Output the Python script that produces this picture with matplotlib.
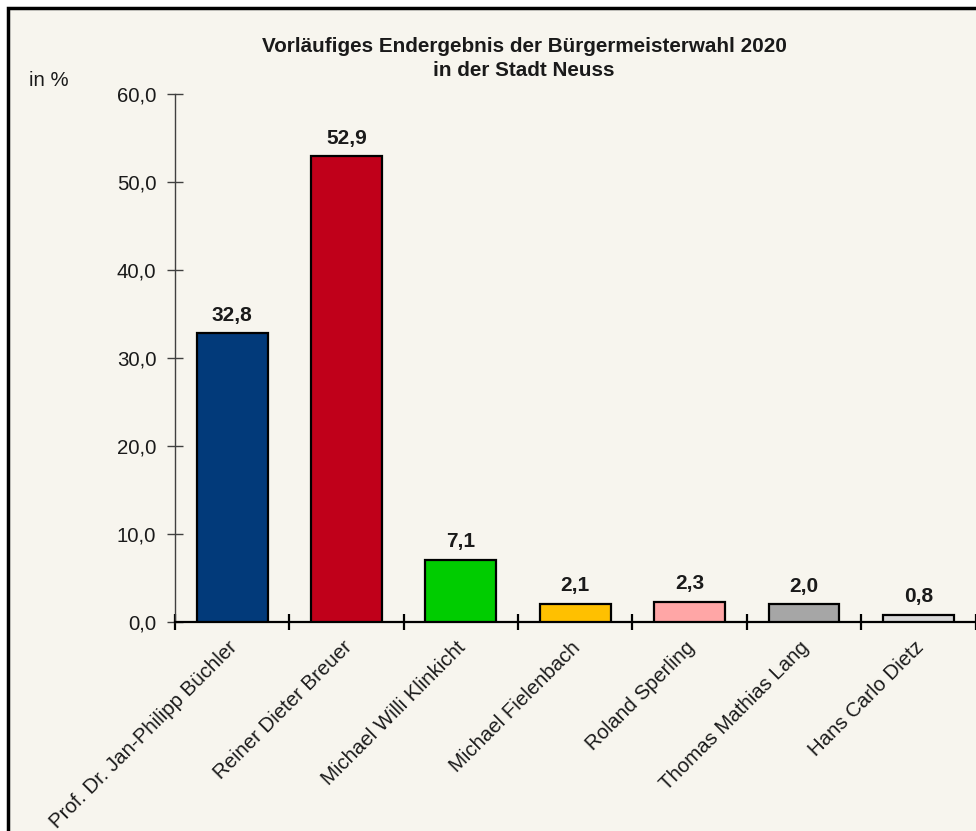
import numpy as np
import matplotlib
matplotlib.use('Agg')
from matplotlib import pyplot as plt
from matplotlib.patches import Rectangle
from matplotlib.ticker import FuncFormatter

plt.rcParams['font.family'] = ['Liberation Sans', 'DejaVu Sans']

candidates = ['Prof. Dr. Jan-Philipp Büchler', 'Reiner Dieter Breuer',
              'Michael Willi Klinkicht', 'Michael Fielenbach', 'Roland Sperling',
              'Thomas Mathias Lang', 'Hans Carlo Dietz']
shares     = [32.8, 52.9, 7.1, 2.1, 2.3, 2.0, 0.8]
colors     = ['#023A7A', '#C0001A', '#00CC00', '#FFC000', '#FFA6A6', '#A6A6A6', '#D9D9D9']
yticks     = [0, 10, 20, 30, 40, 50, 60]

BG = '#F7F5EE'
TXT = '#1a1a1a'

fig = plt.figure(figsize=(9.76, 8.31), dpi=100)
fig.patch.set_facecolor('white')

# beige panel with black frame (right/bottom run off the picture)
fig.patches.append(Rectangle((8/976, -0.05), 1.1, (831-8)/831 + 0.05,
                             transform=fig.transFigure, facecolor=BG,
                             edgecolor='black', linewidth=2.5, zorder=-1))

ax = fig.add_axes([175/976, (831-622)/831, (975.5-175)/976, (622-94)/831])
ax.set_facecolor('none')

x = np.arange(len(candidates))
ax.bar(x, shares, width=0.62, color=colors, edgecolor='black', linewidth=1.6, zorder=3)

for xi, v in zip(x, shares):
    ax.text(xi, v + 1.0, f'{v:.1f}'.replace('.', ','), ha='center', va='bottom',
            fontsize=15, fontweight='bold', color=TXT)

ax.set_xlim(-0.5, len(candidates) - 0.5)
ax.set_ylim(0, 60)

for s in ['top', 'right']:
    ax.spines[s].set_visible(False)
ax.spines['left'].set_color('#404040')
ax.spines['left'].set_linewidth(1.0)
ax.spines['bottom'].set_color('black')
ax.spines['bottom'].set_linewidth(1.6)

ax.set_yticks(yticks)
ax.yaxis.set_major_formatter(FuncFormatter(lambda v, p: f'{v:.1f}'.replace('.', ',')))
ax.tick_params(axis='y', direction='inout', length=11, width=1.0, color='#404040',
               labelsize=14.7, pad=8, labelcolor=TXT)

ax.set_xticks(np.arange(len(candidates) + 1) - 0.5)
ax.set_xticklabels([])
ax.tick_params(axis='x', direction='inout', length=11, width=1.6, color='black')

for xi, name in zip(x, candidates):
    ax.text(xi - 0.04, -1.8, name, rotation=45, rotation_mode='anchor',
            ha='right', va='top', fontsize=14.7, color=TXT)

fig.text(524/976, 1 - 46/831, 'Vorläufiges Endergebnis der Bürgermeisterwahl 2020',
         ha='center', va='center', fontsize=14.9, fontweight='bold', color=TXT)
fig.text(524/976, 1 - 71/831, 'in der Stadt Neuss',
         ha='center', va='center', fontsize=14.9, fontweight='bold', color=TXT)
fig.text(29/976, 1 - 80/831, 'in %', ha='left', va='center', fontsize=14.7, color=TXT)

fig.savefig('out.png', dpi=100, facecolor=fig.get_facecolor())
